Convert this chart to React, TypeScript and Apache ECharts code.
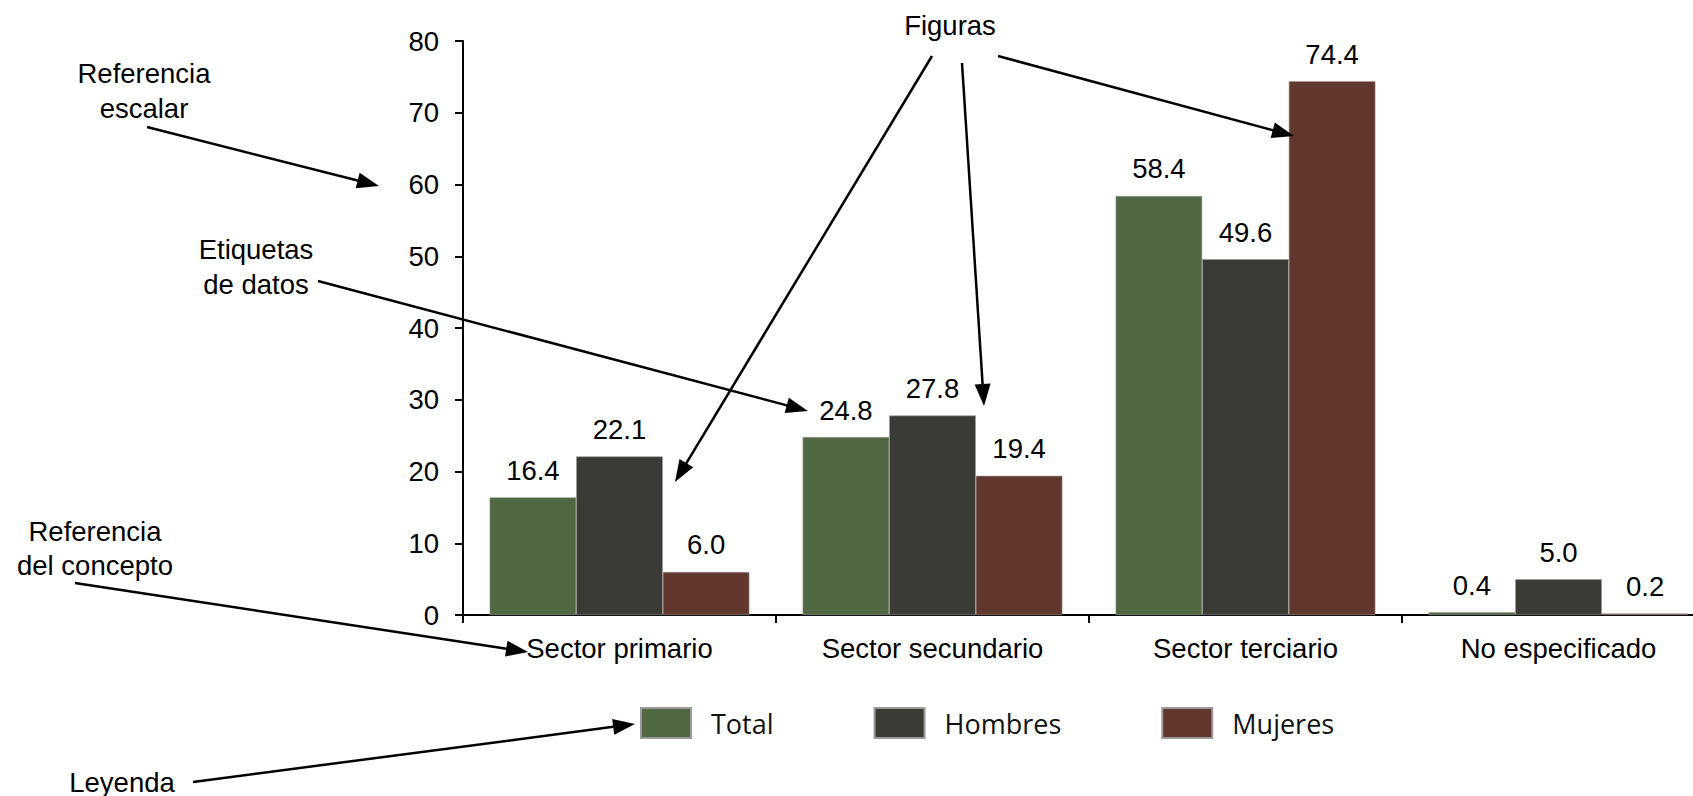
import React, { useEffect, useRef } from "react";
import * as echarts from "echarts";

const categories = ["Sector primario", "Sector secundario", "Sector terciario", "No especificado"];
const seriesNames = ["Total", "Hombres", "Mujeres"];
const totalValues = [16.4, 24.8, 58.4, 0.4];
const hombresValues = [22.1, 27.8, 49.6, 5.0];
const mujeresValues = [6.0, 19.4, 74.4, 0.2];
const seriesColors = ["#4F6841", "#3B3B35", "#62372E"];

// annotation texts: [text, centerX, centerY]
const notes: [string, number, number][] = [
  ["Referencia", 144, 73],
  ["escalar", 144, 108],
  ["Figuras", 950, 25],
  ["Etiquetas", 256, 249],
  ["de datos", 256, 284],
  ["Referencia", 95, 531],
  ["del concepto", 95, 565],
  ["Leyenda", 122, 782],
];

// annotation arrows: [x1, y1, tipX, tipY]
const arrows: [number, number, number, number][] = [
  [147, 127, 379, 186],
  [932, 56, 675, 482],
  [962, 63, 984, 406],
  [998, 56, 1294, 136],
  [318, 281, 808, 411],
  [75, 583, 528, 652],
  [193, 782, 635, 724],
];

const FONT = "'Liberation Sans', Arial, sans-serif";
const FS = 27.5;

function buildGraphics() {
  const els: any[] = [];
  notes.forEach(([t, x, y]) => {
    els.push({
      type: "text",
      x,
      y,
      z: 100,
      style: {
        text: t,
        fill: "#000",
        font: `${FS}px ${FONT}`,
        textAlign: "center",
        textVerticalAlign: "middle",
      },
    });
  });
  const L = 22;
  const W = 8;
  arrows.forEach(([x1, y1, x2, y2]) => {
    const dx = x2 - x1;
    const dy = y2 - y1;
    const len = Math.sqrt(dx * dx + dy * dy);
    const ux = dx / len;
    const uy = dy / len;
    const bx = x2 - ux * L;
    const by = y2 - uy * L;
    const nx = -uy;
    const ny = ux;
    els.push({
      type: "line",
      z: 100,
      shape: { x1, y1, x2: bx + ux * 2, y2: by + uy * 2 },
      style: { stroke: "#000", lineWidth: 2.5 },
    });
    els.push({
      type: "polygon",
      z: 100,
      shape: {
        points: [
          [x2, y2],
          [bx + nx * W, by + ny * W],
          [bx - nx * W, by - ny * W],
        ],
      },
      style: { fill: "#000" },
    });
  });
  return els;
}

export default function App() {
  const ref = useRef<HTMLDivElement>(null);
  useEffect(() => {
    if (!ref.current) return;
    const chart = echarts.init(ref.current, null, { renderer: "svg" });
    const values = [totalValues, hombresValues, mujeresValues];
    chart.setOption({
      animation: false,
      backgroundColor: "#fff",
      grid: {
        left: 463,
        top: 41,
        width: 1252,
        bottom: 181,
        containLabel: false,
        outerBoundsMode: "none",
      },
      legend: {
        left: 635,
        top: 702,
        itemWidth: 50,
        itemHeight: 30,
        itemGap: 100,
        icon: "rect",
        data: seriesNames,
        textStyle: {
          fontFamily: "'Open Sans', sans-serif",
          fontSize: 27,
          color: "#111",
          padding: [0, 0, 0, 15],
        },
      },
      xAxis: {
        type: "category",
        data: categories,
        axisLine: { lineStyle: { color: "#000", width: 2 } },
        axisTick: { show: true, length: 8, lineStyle: { color: "#000", width: 2 } },
        axisLabel: { fontFamily: FONT, fontSize: FS, color: "#000", margin: 19 },
      },
      yAxis: {
        type: "value",
        min: 0,
        max: 80,
        interval: 10,
        splitLine: { show: false },
        axisLine: { show: true, lineStyle: { color: "#000", width: 2 } },
        axisTick: { show: true, length: 8, lineStyle: { color: "#000", width: 2 } },
        axisLabel: { fontFamily: FONT, fontSize: FS, color: "#000", margin: 24 },
      },
      series: seriesNames.map((name, i) => ({
        name,
        type: "bar",
        data: values[i],
        barGap: "0%",
        barCategoryGap: "17%",
        itemStyle: { color: seriesColors[i], borderColor: "#9a9a9a", borderWidth: 0.6 },
        label: {
          show: true,
          position: "top",
          distance: 13,
          fontFamily: FONT,
          fontSize: FS,
          color: "#000",
          formatter: (p: any) => Number(p.value).toFixed(1),
        },
      })),
      graphic: buildGraphics(),
    });
    return () => chart.dispose();
  }, []);
  return (
    <div
      ref={ref}
      style={{ position: "absolute", left: 0, top: 0, width: 1693, height: 796 }}
    />
  );
}
